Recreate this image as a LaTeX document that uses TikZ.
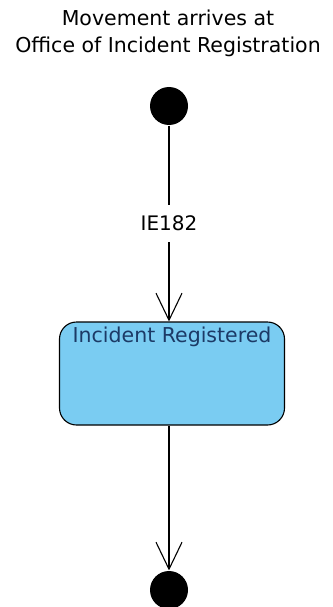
\documentclass[tikz,border=0pt]{standalone}
\usepackage{fontspec}
\setmainfont{DejaVu Sans}
\usetikzlibrary{arrows.meta}

\definecolor{stateblue}{HTML}{7ACCF2}
\definecolor{statetext}{HTML}{1C3A66}

\begin{document}
\begin{tikzpicture}[x=1pt,y=-1pt,line width=1.1pt,
  pseudo/.style={circle,fill=black,inner sep=0pt,minimum size=38pt},
  statebox/.style={draw,fill=stateblue,rounded corners=17pt,minimum width=225pt,minimum height=103pt},
  flow/.style={-{Straight Barb[length=27pt,width=26pt,line width=1.1pt]}}]
  \useasboundingbox (0,0) rectangle (332,607);

  \draw (168,33) node[align=center,font=\fontsize{20.5}{27}\selectfont] (title) {Movement arrives at\\Office of Incident Registration};
  \draw (169,106) node[pseudo] (start) {};
  \draw (172,373.5) node[statebox] (reg) {};
  \draw (reg.north) node[anchor=north,inner sep=4.5pt,text=statetext,font=\fontsize{20.5}{24}\selectfont] (regtext) {Incident Registered};
  \draw (169,590) node[pseudo] (stop) {};

  \draw[flow] (start) -- node[fill=white,inner ysep=11pt,font=\fontsize{20}{24}\selectfont] (ie) {IE182} (start |- reg.north);
  \draw[flow] (start |- reg.south) -- (stop);
\end{tikzpicture}
\end{document}
